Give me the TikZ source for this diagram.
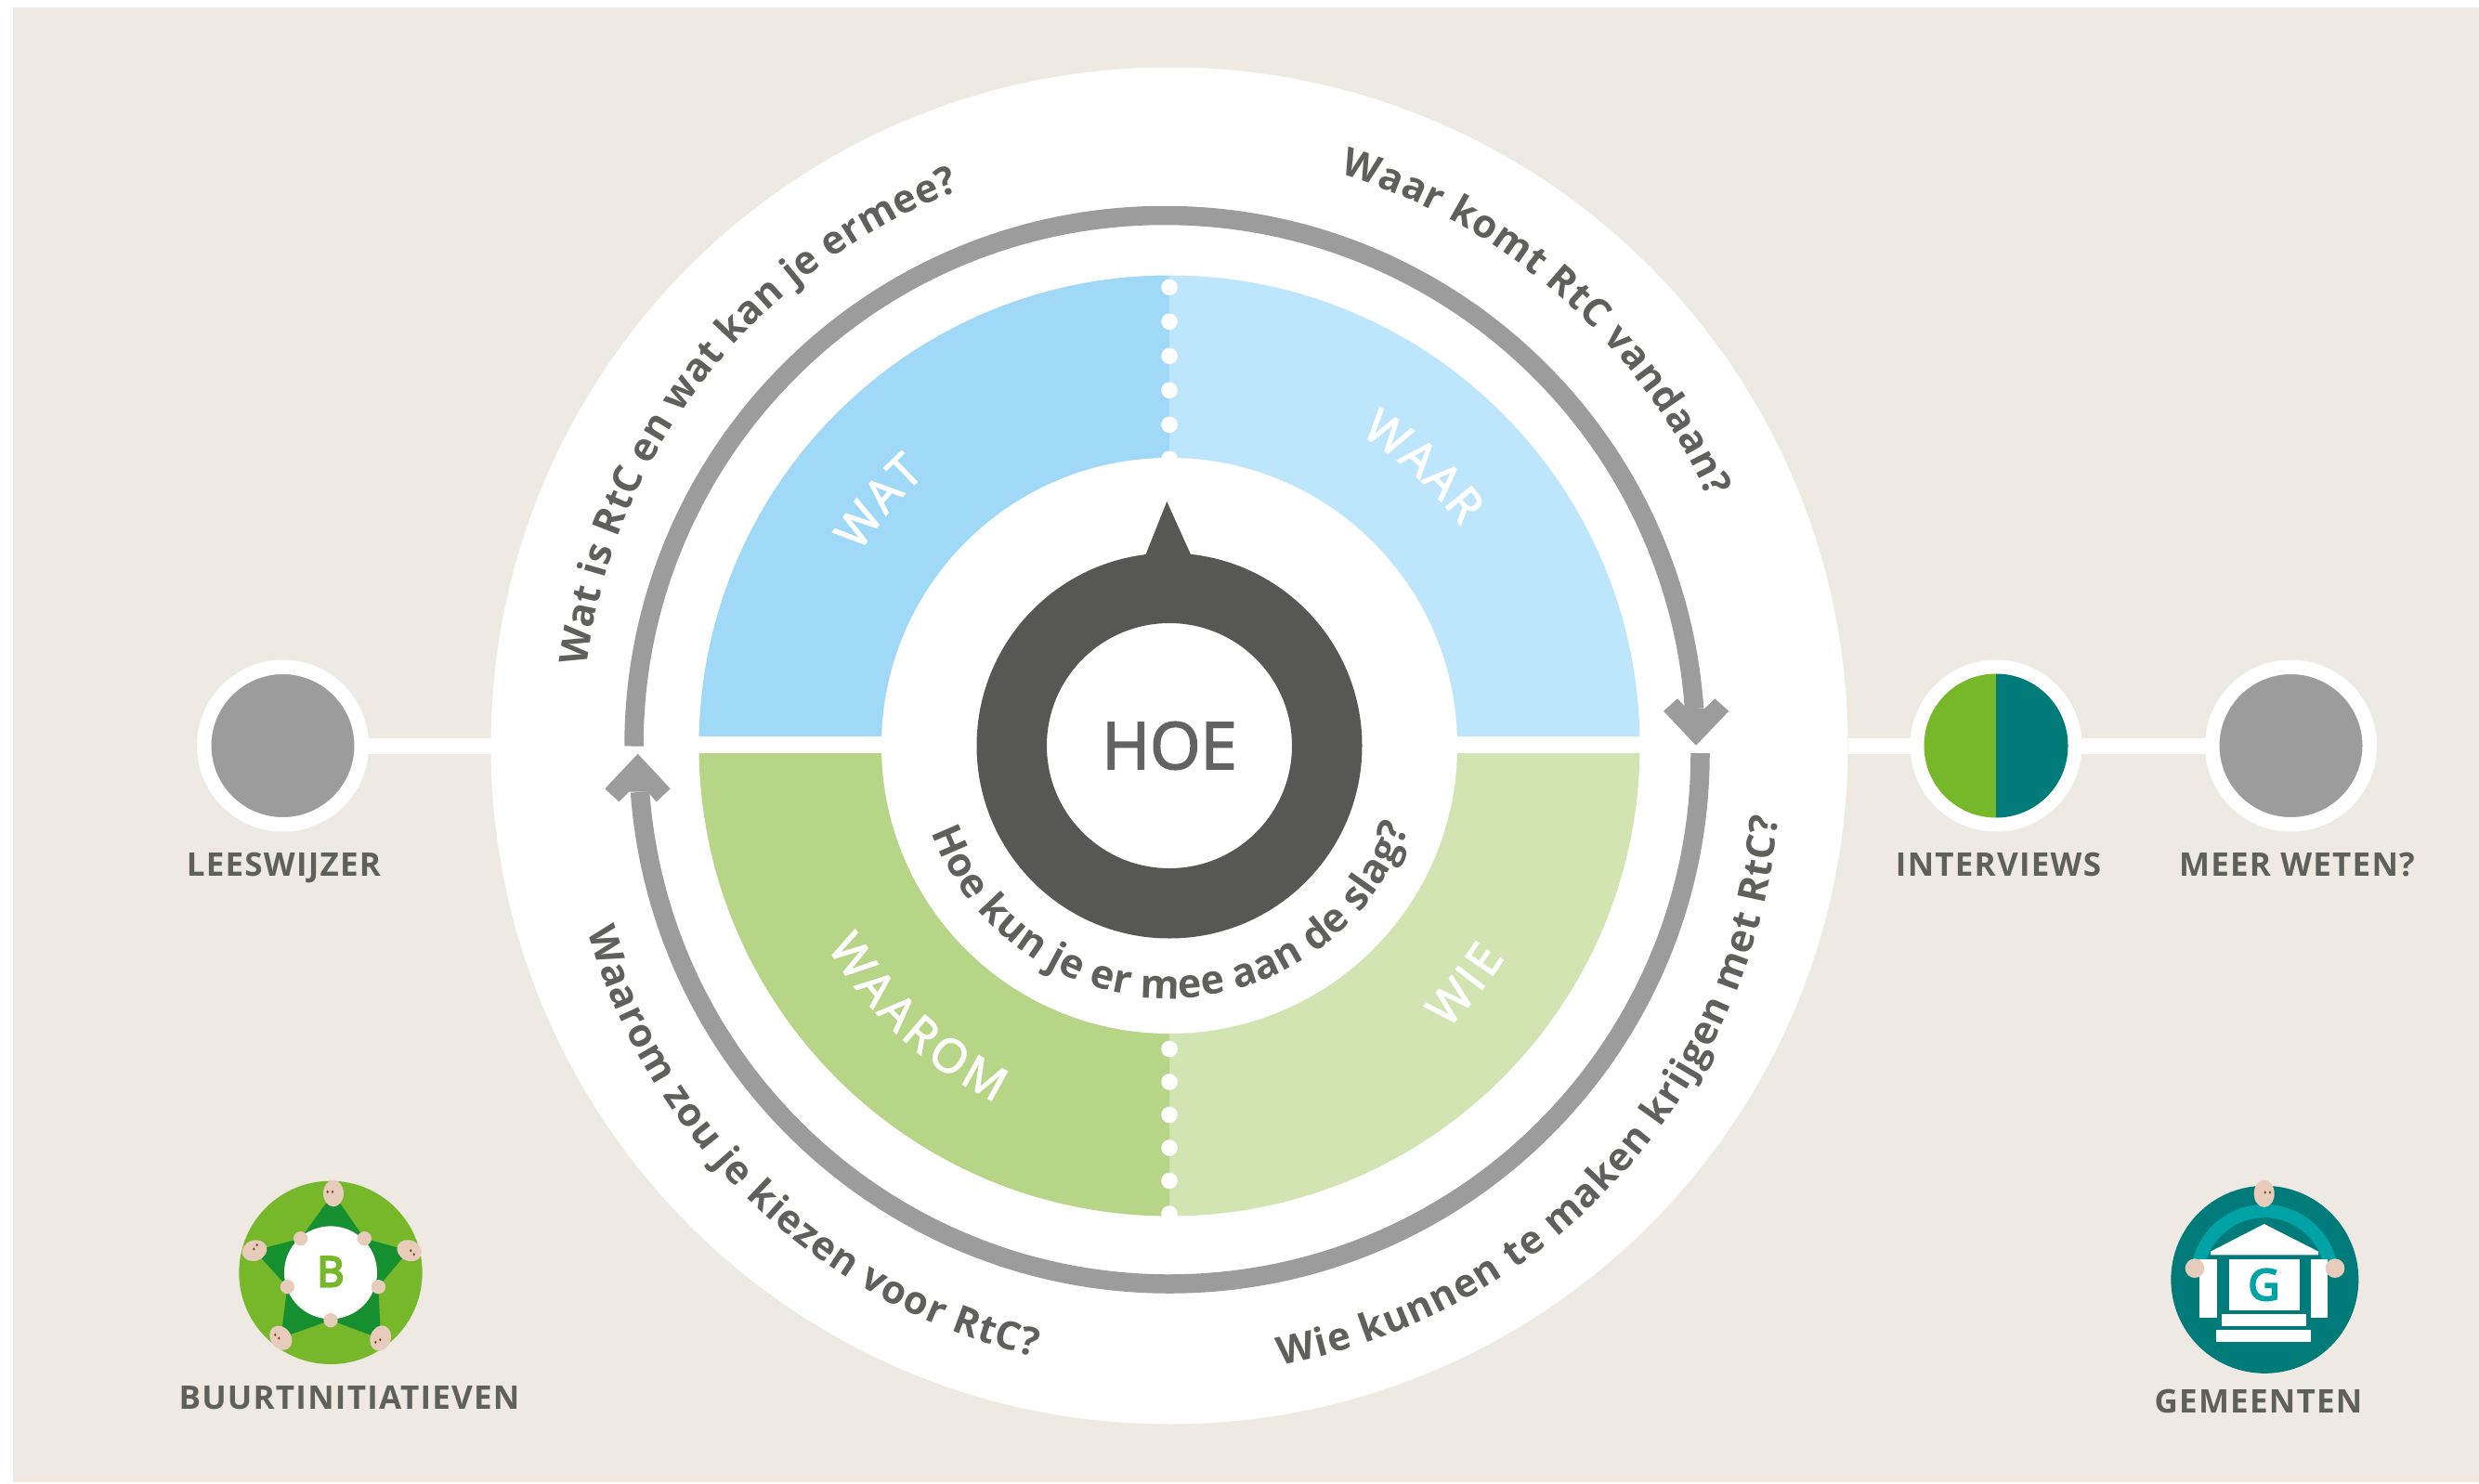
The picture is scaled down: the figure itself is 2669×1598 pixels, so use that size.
\documentclass[tikz,border=0pt]{standalone}
\usepackage{fontspec}
\setmainfont{Open Sans}
\newfontfamily\osmed[FakeBold=2.5]{Open Sans}
\newfontfamily\osheavy[FakeBold=5]{Open Sans}
\newfontfamily\oslabel[LetterSpace=3.5]{Open Sans}
\usetikzlibrary{decorations.text}
\definecolor{bgcream}{HTML}{EEEAE3}
\definecolor{ringgrey}{HTML}{9C9C9C}
\definecolor{txtgrey}{HTML}{5F5F5B}
\definecolor{hoegrey}{HTML}{636363}
\definecolor{darkring}{HTML}{575756}
\definecolor{watblue}{HTML}{A0D9F8}
\definecolor{waarblue}{HTML}{BDE5FB}
\definecolor{waaromgreen}{HTML}{B7D587}
\definecolor{wiegreen}{HTML}{D3E4B3}
\definecolor{limegreen}{HTML}{76B82A}
\definecolor{stargreen}{HTML}{158F30}
\definecolor{teal}{HTML}{007B7A}
\definecolor{lightteal}{HTML}{00A3A5}
\definecolor{skin}{HTML}{E8CCBB}
\definecolor{eyebrown}{HTML}{7A3F10}
\newcommand{\fs}[1]{\fontsize{#1}{#1}\selectfont}
\newcommand{\arclabel}[6]{%
  \path[decorate,decoration={text along path,text align=fit to path,text={|#1|#6}}]
    ([shift={(#4:#3pt)}]#2) arc[start angle=#4,end angle=#5,radius=#3pt];}
\newcommand{\qfont}{\fs{42}\bfseries\color{txtgrey}}
\newcommand{\hfont}{\fs{43}\bfseries\color{txtgrey}}
\newcommand{\sfont}{\osmed\fs{50}\color{white}}
\newcommand{\facehead}[5]{\fill[skin,shift={(#1,#2)},rotate=#5] (0,0) ellipse[x radius=#3,y radius=#4];}
\newcommand{\eye}[2]{\fill[eyebrown] (#1,#2) ellipse[x radius=3.5,y radius=5];}
\tikzset{
  menudot/.style={circle,inner sep=0pt,outer sep=0pt,minimum size=169.5pt,draw=white,line width=15.5pt,fill=ringgrey},
  menulabel/.style={anchor=base,inner sep=0pt,font=\oslabel\fs{35}\bfseries,text=txtgrey},
  link/.style={draw=white,line width=17pt},
  shaft/.style={draw=ringgrey,line width=20.5pt}
}
\begin{document}
\begin{tikzpicture}[x=1pt,y=1pt]
\useasboundingbox (0,0) rectangle (2669,-1598);
\fill[bgcream] (14,-8) rectangle (2669,-1596);
\coordinate (c) at (1259,-803);
\coordinate (tlc) at (1259,-795);
\coordinate (brc) at (1259,-823);
\coordinate (blc) at (1263,-823);
% main disc
\node[circle,fill=white,inner sep=0pt,outer sep=0pt,minimum size=1461pt] (big) at (c) {};
% quadrants
\fill[watblue] (c) -- ([shift={(180:506.5pt)}]c) arc[start angle=180,end angle=90,radius=506.5pt] -- cycle;
\fill[waarblue] (c) -- ([shift={(90:506.5pt)}]c) arc[start angle=90,end angle=0,radius=506.5pt] -- cycle;
\fill[wiegreen] (c) -- ([shift={(0:506.5pt)}]c) arc[start angle=0,end angle=-90,radius=506.5pt] -- cycle;
\fill[waaromgreen] (c) -- ([shift={(-90:506.5pt)}]c) arc[start angle=-90,end angle=-180,radius=506.5pt] -- cycle;
\fill[white] (740,-793) rectangle (1780,-810.5);
\foreach \yy in {309.3,346.3,383.3,420.3,457.3,494.3,1129.5,1165,1200.5,1236,1271.4,1307}
  \fill[white] (1259,-\yy) circle[radius=8.8];
\node[circle,fill=white,inner sep=0pt,outer sep=0pt,minimum size=620pt] (inner) at (c) {};
% pointer and HOE dial
\fill[darkring] (1233.3,-597.7) -- (1256.3,-540) -- (1282.3,-597.7) -- (1282.3,-612) -- (1233.3,-612) -- cycle;
\node[circle,draw=darkring,line width=75.5pt,fill=white,inner sep=0pt,outer sep=0pt,minimum size=339.5pt,
      font=\osmed\fs{70},text=hoegrey] (hoe) at (c) {HOE};
% ring with arrows
\coordinate (ua) at (1254,-803.5);
\coordinate (la) at (1259,-811);
\draw[shaft] ([shift={(180:571.5pt)}]ua) arc[start angle=180,end angle=4.06,radius=571.5pt];
\draw[shaft] ([shift={(0:571.5pt)}]la) arc[start angle=0,end angle=-175.8,radius=571.5pt];
\fill[ringgrey] (1826,-802.7) -- (1861.3,-765.7) -- (1846.3,-752.3) -- (1835.7,-762.7) -- (1816,-762.7) -- (1806,-752.3) -- (1791,-765.7) -- cycle;
\fill[ringgrey] (686.7,-811.7) -- (651.3,-849.3) -- (666.3,-863.3) -- (677.3,-852.7) -- (697.3,-852.7) -- (706.7,-863.3) -- (721.7,-849.3) -- cycle;
% ring texts
\arclabel{\qfont}{tlc}{632}{173}{111}{Wat is RtC en wat kan je ermee?}
\arclabel{\qfont}{tlc}{635}{73.2}{24}{Waar komt RtC vandaan?}
\arclabel{\qfont}{brc}{658}{-79.5}{-5}{Wie kunnen te maken krijgen met RtC?}
\arclabel{\qfont}{blc}{655}{195.9}{256.9}{Waarom zou je kiezen voor RtC?}
\arclabel{\hfont}{c}{272}{200}{341}{Hoe kun je er mee aan de slag?}
% quadrant names
\arclabel{\sfont}{c}{393}{148}{132}{WAT}
\arclabel{\sfont}{c}{393}{58.5}{37}{WAAR}
\arclabel{\sfont}{c}{427}{210.5}{244}{WAAROM}
\arclabel{\sfont}{c}{427}{-45.5}{-32.3}{WIE}
% side menu
\node[menudot] (lees) at (304.5,-803) {};
\node[menudot] (intv) at (2149,-803) {};
\node[menudot] (meer) at (2466.5,-803) {};
\draw[link] (lees) -- (big);
\draw[link] (big) -- (intv);
\draw[link] (intv) -- (meer);
\fill[limegreen] (2149,-725.5) arc[start angle=90,end angle=270,radius=77.5pt] -- cycle;
\fill[teal] (2149,-725.5) arc[start angle=90,end angle=-90,radius=77.5pt] -- cycle;
\node[menulabel] (leeslabel) at (305.5,-943) {LEESWIJZER};
\node[menulabel] (intvlabel) at (2151.5,-943) {INTERVIEWS};
\node[menulabel] (meerlabel) at (2473,-943) {MEER WETEN?};
\node[menulabel] (buurtlabel) at (376,-1517) {BUURTINITIATIEVEN};
\node[menulabel] (gemlabel) at (2431.5,-1521) {GEMEENTEN};
% B icon
\begin{scope}[shift={(220,-1240)},x=0.33333pt,y=-0.33333pt]
  \fill[limegreen] (408,391) circle[radius=296];
  \fill[stargreen] (416,135) -- (517,281) -- (660,320) -- (562,437) -- (570,605) -- (408,545) -- (247,602) -- (268,437) -- (162,320) -- (311,281) -- cycle;
  \fill[white] (408,391) circle[radius=150];
  \foreach \hx/\hy in {311/281,517/281,562/437,268/437,408/545}
    \fill[skin] (\hx,\hy) circle[radius=23];
  \facehead{417}{135}{33}{43}{0}
  \facehead{662}{320}{41}{33}{-25}
  \facehead{569}{603}{33}{42}{-20}
  \facehead{247}{602}{33}{42}{35}
  \facehead{162}{320}{41}{33}{20}
  \eye{398}{130}\eye{414}{130}
  \eye{667}{320}\eye{677}{332}
  \eye{553}{616}\eye{568}{608}
  \eye{229}{592}\eye{241}{603}
  \eye{170}{302}\eye{160}{315}
  \node[inner sep=0pt,font=\osheavy\fs{45},text=limegreen] (btext) at (408,388) {B};
\end{scope}
% G icon
\begin{scope}[shift={(2300,-1250)},x=0.33333pt,y=-0.33333pt]
  \fill[teal] (415,383.5) circle[radius=303];
  \draw[lightteal,line width=14.3pt] ([shift={(190:218)}]414,380) arc[start angle=190,end angle=350,radius=218];
  \fill[white] (413,204) -- (588,293) -- (588,304) -- (240,304) -- (240,293) -- cycle;
  \fill[white] (204,318) rectangle (260,507);
  \fill[white] (564,318) rectangle (618,507);
  \fill[white] (300,318) rectangle (528,483);
  \fill[white] (276,495) rectangle (549,534);
  \fill[white] (258,546) rectangle (564,585);
  \fill[skin] (189,347) circle[radius=31];
  \fill[skin] (642,347) circle[radius=31];
  \facehead{413}{106}{33}{44}{0}
  \eye{416}{102}\eye{432}{102}
  \node[inner sep=0pt,font=\osheavy\fs{46},text=lightteal] (gtext) at (412,400) {G};
\end{scope}
\end{tikzpicture}
\end{document}
